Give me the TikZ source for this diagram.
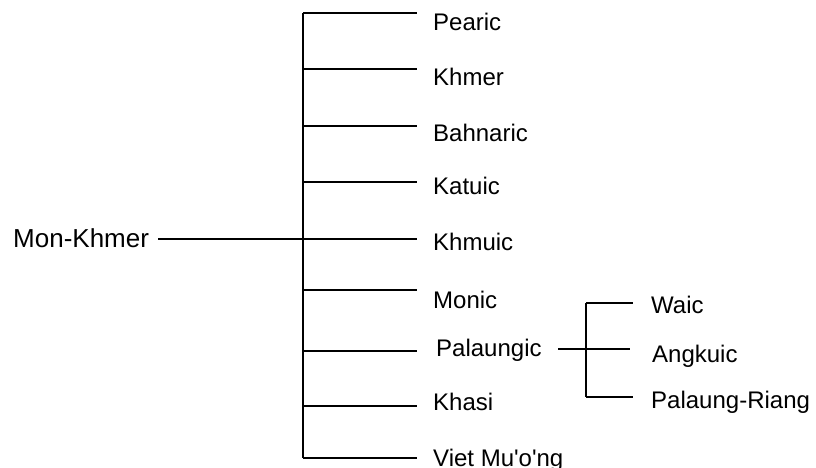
\documentclass[tikz,border=0pt]{standalone}
\usepackage{fontspec}
\setmainfont{Liberation Sans}
\begin{document}
\begin{tikzpicture}[x=1pt,y=-1pt,
  lbl/.style={font=\fontsize{24}{28}\selectfont, anchor=west, inner xsep=16pt, inner ysep=0pt,
              text height=17.2pt, text depth=0pt},
  sublbl/.style={lbl, inner xsep=18pt},
  link/.style={line width=1.5pt, line cap=butt}]
\useasboundingbox (0,0) rectangle (816,467);

% root
\node[lbl, font=\fontsize{26}{30}\selectfont, inner xsep=0pt, text height=18.6pt] (mk) at (13,238) {Mon-Khmer};
\coordinate (mkend) at (158,239);

% trunk junctions
\coordinate (j1) at (303,13);
\coordinate (j2) at (303,69);
\coordinate (j3) at (303,126);
\coordinate (j4) at (303,182);
\coordinate (j5) at (303,239);
\coordinate (j6) at (303,290);
\coordinate (j7) at (303,351);
\coordinate (j8) at (303,406);
\coordinate (j9) at (303,458);

% branch labels (west anchor = end of branch line)
\node[lbl] (pearic) at (417,21.5) {Pearic};
\node[lbl] (khmer)  at (417,76.5) {Khmer};
\node[lbl] (bahn)   at (417,133) {Bahnaric};
\node[lbl] (katu)   at (417,186) {Katuic};
\node[lbl] (khmu)   at (417,242) {Khmuic};
\node[lbl] (monic)  at (417,299.5) {Monic};
\node[lbl, inner xsep=19pt] (pal) at (417,347.5) {Palaungic};
\node[lbl] (khasi)  at (417,401.5) {Khasi};
\node[lbl] (viet)   at (417,458) {Viet Mu\textquotesingle o\textquotesingle ng};

% trunk
\draw[link] (j1) -- (j9);
\draw[link] (mkend) -- (j5);
\draw[link] (j1) -- (j1 -| pearic.west);
\draw[link] (j2) -- (j2 -| khmer.west);
\draw[link] (j3) -- (j3 -| bahn.west);
\draw[link] (j4) -- (j4 -| katu.west);
\draw[link] (j5) -- (j5 -| khmu.west);
\draw[link] (j6) -- (j6 -| monic.west);
\draw[link] (j7) -- (j7 -| pal.west);
\draw[link] (j8) -- (j8 -| khasi.west);
\draw[link] (j9) -- (j9 -| viet.west);

% Palaungic subtree
\coordinate (pstart) at (558,349);
\coordinate (s1) at (586,303);
\coordinate (s2) at (586,349);
\coordinate (s3) at (586,397);
\node[sublbl] (waic) at (633,305) {Waic};
\node[sublbl, inner xsep=22pt] (ang) at (630,353.5) {Angkuic};
\node[sublbl] (pr)   at (633,400) {Palaung-Riang};

\draw[link] (s1) -- (s3);
\draw[link] (pstart) -- (s2);
\draw[link] (s1) -- (s1 -| waic.west);
\draw[link] (s2) -- (s2 -| ang.west);
\draw[link] (s3) -- (s3 -| pr.west);
\end{tikzpicture}
\end{document}
